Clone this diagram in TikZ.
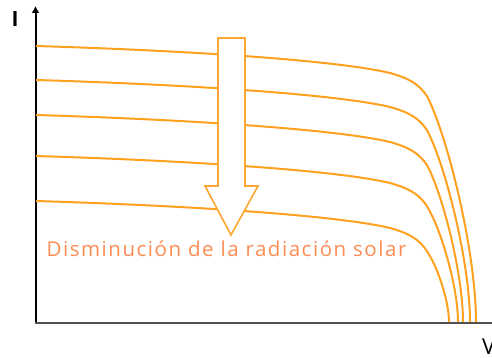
\documentclass[tikz,border=0pt]{standalone}
\usepackage{fontspec}
\setmainfont{Open Sans}
\newfontfamily\rotulo[LetterSpace=7.5]{Open Sans}
\usetikzlibrary{arrows.meta}

\begin{document}
\begin{tikzpicture}[x=1pt,y=-1pt,
    curva/.style={color={rgb,255:red,255; green,160; blue,30},line width=2pt},
    flecha/.style={draw={rgb,255:red,255; green,165; blue,50},fill=white,line width=1.6pt,line join=miter}]
    \useasboundingbox (0,0) rectangle (492,358);
    %ejes
    \coordinate (o) at (35.5,323);
    \draw[line width=2pt] (o) -- (35.5,6) [-{Latex[length=7pt,width=8pt]}] ;
    \draw[line width=2.4pt, color={rgb,255:red,80; green,80; blue,80}] (34.5,323) -- (492,323);
    \node[font=\bfseries\fontsize{21}{21}\selectfont] (I) at (15,19) {I};
    \node[anchor=west, inner sep=0pt, font=\fontsize{22}{22}\selectfont] (V) at (482,347) {V};
    % curvas I-V
    \foreach \ya/\xe in {46/476, 80/470, 115/463, 156/458, 201/449}{
        \draw [curva] (36,\ya) .. controls (200,\ya+5) and (340,\ya+15) .. (390,\ya+27)
            .. controls (408,\ya+32) and (420,\ya+38) .. (428,\ya+52)
            .. controls ({428+0.45*(\xe-428)},{\ya+52+0.2*(270-\ya)}) and (\xe,{322-0.3*(270-\ya)}) .. (\xe,322);
    }
    % flecha
    \draw [flecha] (218,38) -- (245,38) -- (245,186) -- (258,186) -- (231,235) -- (205,186) -- (218,186) -- cycle;
    \node[anchor=base, text={rgb,255:red,252; green,140; blue,85}, font=\rotulo\fontsize{20.5}{21}\selectfont] (texto) at (226.5,256) {Disminución de la radiación solar};
\end{tikzpicture}
\end{document}
